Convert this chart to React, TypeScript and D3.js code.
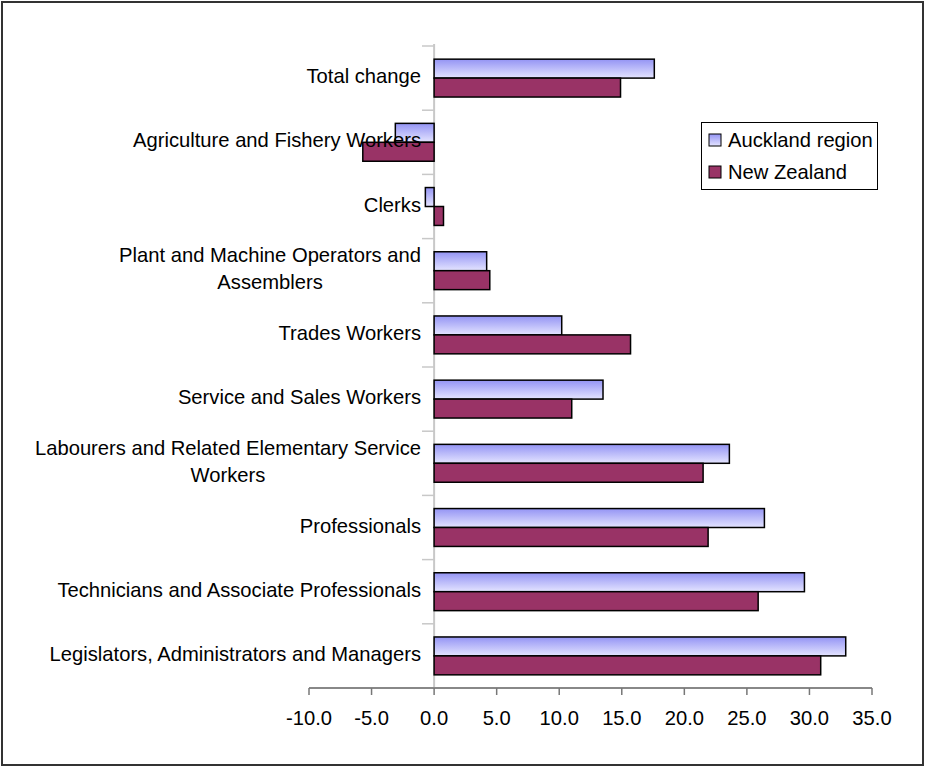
import React from "react";
import * as d3 from "d3";

const categories = [
  "Total change",
  "Agriculture and Fishery Workers",
  "Clerks",
  "Plant and Machine Operators and\nAssemblers",
  "Trades Workers",
  "Service and Sales Workers",
  "Labourers and Related Elementary Service\nWorkers",
  "Professionals",
  "Technicians and Associate Professionals",
  "Legislators, Administrators and Managers",
];
const aucklandValues = [17.6, -3.1, -0.7, 4.2, 10.2, 13.5, 23.6, 26.4, 29.6, 32.9];
const nzValues = [14.9, -5.7, 0.75, 4.45, 15.7, 11.0, 21.5, 21.9, 25.9, 30.9];
const seriesNames = ["Auckland region", "New Zealand"];
const xTicks = [-10, -5, 0, 5, 10, 15, 20, 25, 30, 35];

const FONT = "'Liberation Sans', Arial, sans-serif";

function measure(text: string, size: number) {
  const c = document.createElement("canvas");
  const ctx = c.getContext("2d")!;
  ctx.font = `${size}px 'Liberation Sans', Arial, sans-serif`;
  return ctx.measureText(text).width;
}

export default function App() {
  const W = 925, H = 766;
  const x = d3.scaleLinear().domain([-10, 35]).range([309, 872]);
  const y = d3.scaleBand<string>().domain(categories).range([46, 688]).paddingInner(0.41).paddingOuter(0.205);
  const inner = d3.scaleBand<string>().domain(seriesNames).range([0, y.bandwidth()]);
  const step = y.step();
  const fs = 20.2;
  const labelRight = 421;

  return (
    <svg width={W} height={H} style={{ position: "absolute", left: 0, top: 0 }} fontFamily={FONT}>
      <defs>
        <linearGradient id="akl" x1="0" y1="0" x2="0" y2="1">
          <stop offset="0" stopColor="#9494f4" />
          <stop offset="1" stopColor="#e4e4ff" />
        </linearGradient>
      </defs>
      <rect x={0} y={0} width={W} height={H} fill="#fff" />
      <rect x={2} y={2} width={W - 4} height={H - 3} fill="none" stroke="#333" strokeWidth={2} />

      {/* category axis */}
      <line x1={x(0)} x2={x(0)} y1={44} y2={688} stroke="#c8c8c8" strokeWidth={2} />
      {categories.map((c, i) => (
        <line key={"t" + i} x1={422} x2={x(0)} y1={46 + step * i} y2={46 + step * i} stroke="#c8c8c8" strokeWidth={1.5} />
      ))}

      {/* value axis */}
      <line x1={x(-10)} x2={x(35)} y1={688} y2={688} stroke="#888" strokeWidth={2} />
      {xTicks.map((t) => (
        <g key={"x" + t}>
          <line x1={x(t)} x2={x(t)} y1={688} y2={695} stroke="#777" strokeWidth={1.5} />
          <text x={x(t)} y={725} textAnchor="middle" fontSize={fs} fill="#000">
            {t.toFixed(1)}
          </text>
        </g>
      ))}

      {/* bars */}
      {categories.map((c, i) => {
        const vals = [aucklandValues[i], nzValues[i]];
        return vals.map((v, j) => {
          const by = (y(c) as number) + (inner(seriesNames[j]) as number);
          const x0 = Math.min(x(0), x(v));
          const w = Math.abs(x(v) - x(0));
          return (
            <rect
              key={c + j}
              x={x0}
              y={by}
              width={w}
              height={inner.bandwidth()}
              fill={j === 0 ? "url(#akl)" : "#993366"}
              stroke="#000"
              strokeWidth={1.5}
            />
          );
        });
      })}

      {/* category labels */}
      {categories.map((c, i) => {
        const lines = c.split("\n");
        const cy = (y(c) as number) + y.bandwidth() / 2;
        const lh = 27;
        if (lines.length === 1) {
          return (
            <text key={"l" + i} x={labelRight} y={cy + 5} textAnchor="end" fontSize={fs} fill="#000">
              {c}
            </text>
          );
        }
        const maxW = Math.max(...lines.map((l) => measure(l, fs)));
        const cx = labelRight - maxW / 2;
        const top = cy - ((lines.length - 1) * lh) / 2 + 5;
        return (
          <text key={"l" + i} textAnchor="middle" fontSize={fs} fill="#000">
            {lines.map((l, k) => (
              <tspan key={k} x={cx} y={top + k * lh}>
                {l}
              </tspan>
            ))}
          </text>
        );
      })}

      {/* legend */}
      <rect x={701.5} y={122.5} width={176} height={67} fill="#fff" stroke="#000" strokeWidth={1} />
      {seriesNames.map((s, j) => (
        <g key={"lg" + j}>
          <rect
            x={709}
            y={134 + j * 32}
            width={12}
            height={12}
            fill={j === 0 ? "url(#akl)" : "#993366"}
            stroke="#000"
            strokeWidth={1}
          />
          <text x={728} y={147 + j * 32} fontSize={fs} fill="#000">
            {s}
          </text>
        </g>
      ))}
    </svg>
  );
}
